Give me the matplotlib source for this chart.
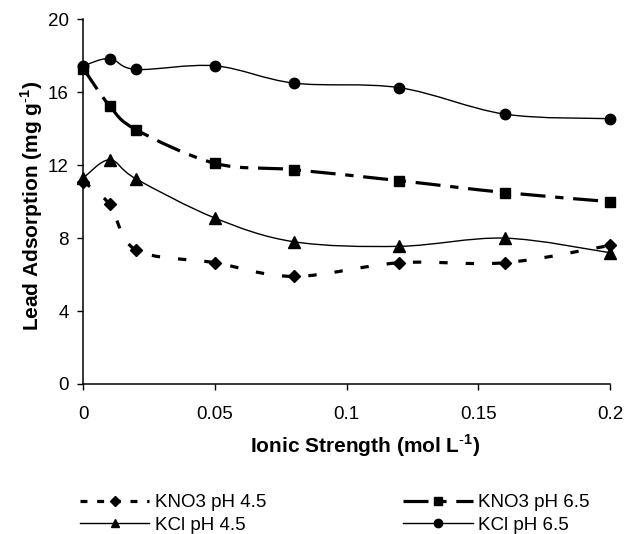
import numpy as np
import matplotlib
matplotlib.use("Agg")
import matplotlib.pyplot as plt
from matplotlib.path import Path
from matplotlib.patches import PathPatch
from matplotlib.lines import Line2D
from matplotlib.ticker import FixedLocator, FixedFormatter

plt.rcParams['font.family'] = ['Liberation Sans', 'DejaVu Sans']
plt.rcParams['mathtext.fontset'] = 'custom'
plt.rcParams['mathtext.rm'] = 'Liberation Sans'
plt.rcParams['mathtext.bf'] = 'Liberation Sans:bold'
plt.rcParams['lines.scale_dashes'] = False

# ---- data ----
ionic = [0, 0.01, 0.02, 0.05, 0.08, 0.12, 0.16, 0.2]
kno3_45 = [11.1, 9.85, 7.35, 6.65, 5.9, 6.65, 6.65, 7.6]
kno3_65 = [17.3, 15.25, 13.95, 12.1, 11.75, 11.15, 10.5, 10.0]
kcl_45 = [11.3, 12.3, 11.25, 9.1, 7.8, 7.55, 8.0, 7.2]
kcl_65 = [17.45, 17.85, 17.25, 17.45, 16.5, 16.25, 14.8, 14.55]
labels = ["KNO3 pH 4.5", "KCl pH 4.5", "KNO3 pH 6.5", "KCl pH 6.5"]
xticks = [0, 0.05, 0.1, 0.15, 0.2]
xticklabels = ["0", "0.05", "0.1", "0.15", "0.2"]
yticks = [0, 4, 8, 12, 16, 20]
yticklabels = ["0", "4", "8", "12", "16", "20"]

fig = plt.figure(figsize=(6.26, 5.34), dpi=100)
ax = fig.add_axes([83.3/626, 1-384/534, (610-83.3)/626, (384-19.3)/534])


def smooth_path(xs, ys):
    P = np.column_stack([xs, ys]).astype(float)
    n = len(P)
    verts = [P[0]]
    codes = [Path.MOVETO]
    for i in range(n - 1):
        pm = P[i-1] if i > 0 else P[i]
        pp = P[i+2] if i + 2 < n else P[i+1]
        c1 = P[i] + (P[i+1] - pm) / 6.0
        c2 = P[i+1] - (pp - P[i]) / 6.0
        verts += [c1, c2, P[i+1]]
        codes += [Path.CURVE4] * 3
    return Path(verts, codes)


styles = {
    "KNO3 pH 4.5": dict(y=kno3_45, ls=(0, (6, 13)), lw=2.3, marker='D', ms=6.5),
    "KNO3 pH 6.5": dict(y=kno3_65, ls=(0, (18, 7, 6, 7)), lw=2.3, marker='s', ms=7),
    "KCl pH 4.5": dict(y=kcl_45, ls='-', lw=1.0, marker='^', ms=8),
    "KCl pH 6.5": dict(y=kcl_65, ls='-', lw=1.0, marker='o', ms=7.5),
}

handles = []
for lab in labels:
    s = styles[lab]
    patch = PathPatch(smooth_path(ionic, s['y']), fill=False, edgecolor='black',
                      lw=s['lw'], linestyle=s['ls'], transform=ax.transData,
                      clip_on=False, capstyle='butt', zorder=2)
    ax.add_patch(patch)
    ax.plot(ionic, s['y'], linestyle='none', marker=s['marker'], ms=s['ms'],
            color='black', clip_on=False, zorder=3)
    legls = (0, (5, 7)) if lab == "KNO3 pH 4.5" else s['ls']
    handles.append(Line2D([], [], color='black', lw=s['lw'], linestyle=legls,
                          marker=s['marker'], ms=s['ms']*0.8, dash_capstyle='butt'))

ax.set_xlim(0, 0.2)
ax.set_ylim(0, 20)
ax.xaxis.set_major_locator(FixedLocator(xticks))
ax.xaxis.set_major_formatter(FixedFormatter(xticklabels))
ax.yaxis.set_major_locator(FixedLocator(yticks))
ax.yaxis.set_major_formatter(FixedFormatter(yticklabels))
for sp in ['top', 'right']:
    ax.spines[sp].set_visible(False)
for sp in ['left', 'bottom']:
    ax.spines[sp].set_linewidth(1.1)
ax.tick_params(direction='out', length=4.5, width=1.0, labelsize=13.5, pad=6)
ax.tick_params(axis='x', pad=11)

fig.text(365/626, 1-446/534, r'Ionic Strength (mol L$^{\mathbf{\text{-}1}}$)',
         ha='center', va='center', fontsize=15, fontweight='bold')
fig.text(32/626, 1-206/534, r'Lead Adsorption (mg g$^{\mathbf{\text{-}1}}$)',
         ha='center', va='center', rotation=90, fontsize=15, fontweight='bold')

fig.legend(handles, labels, ncol=2, frameon=False, loc='upper left',
           bbox_to_anchor=(80/626, 1-494/534), borderpad=0, borderaxespad=0,
           fontsize=13.5, handlelength=3.7, handletextpad=0.3,
           columnspacing=7.3, labelspacing=0.3)

fig.savefig('out.png', dpi=100)
